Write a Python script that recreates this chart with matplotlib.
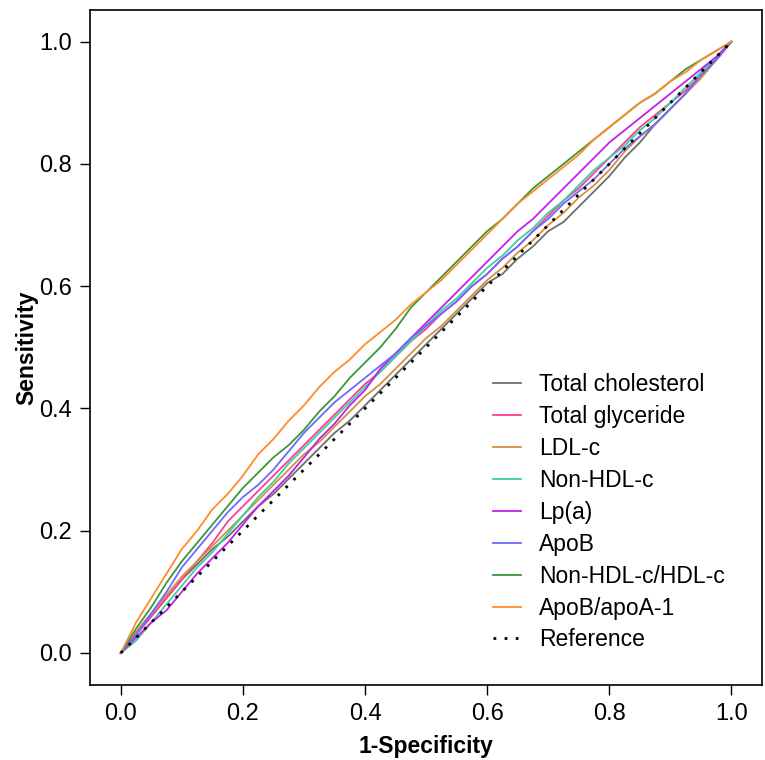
import numpy as np
import matplotlib
matplotlib.use("Agg")
import matplotlib.pyplot as plt

plt.rcParams['font.family'] = ['Liberation Sans', 'DejaVu Sans']

# 1-specificity grid shared by all curves (step 0.025)
fpr = [0, 0.025, 0.05, 0.075, 0.1, 0.125, 0.15, 0.175, 0.2, 0.225, 0.25,
       0.275, 0.3, 0.325, 0.35, 0.375, 0.4, 0.425, 0.45, 0.475, 0.5,
       0.525, 0.55, 0.575, 0.6, 0.625, 0.65, 0.675, 0.7, 0.725, 0.75,
       0.775, 0.8, 0.825, 0.85, 0.875, 0.9, 0.925, 0.95, 0.975, 1.0]

total_chol = [0, 0.03, 0.06, 0.09, 0.12, 0.145, 0.17, 0.19, 0.215, 0.24, 0.26,
              0.285, 0.31, 0.335, 0.36, 0.38, 0.405, 0.43, 0.455, 0.48, 0.505,
              0.53, 0.555, 0.58, 0.605, 0.62, 0.645, 0.665, 0.69, 0.705, 0.73,
              0.755, 0.78, 0.81, 0.835, 0.865, 0.89, 0.915, 0.945, 0.97, 1.0]
total_gly = [0, 0.03, 0.06, 0.09, 0.12, 0.15, 0.18, 0.215, 0.24, 0.265, 0.29,
             0.315, 0.34, 0.365, 0.39, 0.415, 0.44, 0.46, 0.485, 0.51, 0.53,
             0.555, 0.575, 0.6, 0.62, 0.645, 0.665, 0.69, 0.715, 0.74, 0.76,
             0.785, 0.81, 0.835, 0.86, 0.88, 0.9, 0.92, 0.945, 0.97, 1.0]
ldl = [0, 0.035, 0.065, 0.095, 0.125, 0.15, 0.175, 0.2, 0.225, 0.25, 0.275,
       0.3, 0.325, 0.345, 0.37, 0.395, 0.42, 0.44, 0.465, 0.49, 0.515,
       0.535, 0.56, 0.585, 0.61, 0.63, 0.655, 0.675, 0.7, 0.72, 0.745,
       0.765, 0.79, 0.82, 0.845, 0.865, 0.89, 0.915, 0.94, 0.97, 1.0]
non_hdl = [0, 0.02, 0.05, 0.08, 0.11, 0.14, 0.165, 0.195, 0.225, 0.255, 0.28,
           0.31, 0.335, 0.36, 0.385, 0.41, 0.435, 0.46, 0.485, 0.51, 0.535,
           0.56, 0.58, 0.605, 0.63, 0.65, 0.675, 0.695, 0.72, 0.74, 0.765,
           0.79, 0.81, 0.83, 0.855, 0.875, 0.9, 0.925, 0.95, 0.975, 1.0]
lpa = [0, 0.025, 0.05, 0.07, 0.1, 0.13, 0.155, 0.18, 0.21, 0.24, 0.265,
       0.29, 0.32, 0.35, 0.375, 0.405, 0.43, 0.465, 0.49, 0.515, 0.54,
       0.565, 0.59, 0.615, 0.64, 0.665, 0.69, 0.71, 0.735, 0.76, 0.785,
       0.81, 0.835, 0.855, 0.875, 0.895, 0.915, 0.935, 0.955, 0.975, 1.0]
apob = [0, 0.03, 0.065, 0.1, 0.14, 0.17, 0.2, 0.23, 0.255, 0.275, 0.3,
        0.33, 0.36, 0.385, 0.41, 0.43, 0.45, 0.47, 0.49, 0.515, 0.535,
        0.555, 0.575, 0.6, 0.62, 0.645, 0.665, 0.69, 0.71, 0.735, 0.755,
        0.775, 0.8, 0.825, 0.845, 0.865, 0.89, 0.915, 0.945, 0.97, 1.0]
nonhdl_hdl = [0, 0.04, 0.075, 0.115, 0.15, 0.18, 0.21, 0.24, 0.27, 0.295, 0.32,
              0.34, 0.365, 0.395, 0.42, 0.45, 0.475, 0.5, 0.53, 0.565, 0.59,
              0.615, 0.64, 0.665, 0.69, 0.71, 0.735, 0.76, 0.78, 0.8, 0.82,
              0.84, 0.86, 0.88, 0.9, 0.915, 0.935, 0.955, 0.97, 0.985, 1.0]
apob_apoa1 = [0, 0.05, 0.09, 0.13, 0.17, 0.2, 0.235, 0.26, 0.29, 0.325, 0.35,
              0.38, 0.405, 0.435, 0.46, 0.48, 0.505, 0.525, 0.545, 0.57, 0.59,
              0.61, 0.635, 0.66, 0.685, 0.71, 0.735, 0.755, 0.775, 0.795, 0.815,
              0.84, 0.86, 0.88, 0.9, 0.915, 0.935, 0.95, 0.97, 0.985, 1.0]

labels = ['Total cholesterol', 'Total glyceride', 'LDL-c', 'Non-HDL-c',
          'Lp(a)', 'ApoB', 'Non-HDL-c/HDL-c', 'ApoB/apoA-1']
series = [total_chol, total_gly, ldl, non_hdl, lpa, apob, nonhdl_hdl, apob_apoa1]
colors = ['#6e6e6e', '#ff3c96', '#d4903f', '#3ccfa0', '#c020e8', '#6b6bff',
          '#3a963a', '#ff8c2a']

fig = plt.figure(figsize=(7.65, 7.6), dpi=100)
ax = fig.add_axes([0.118, 0.099, 0.878, 0.888])

for y, lab, c in zip(series, labels, colors):
    ax.plot(fpr, y, color=c, lw=1.3, label=lab)
ax.plot([0, 1], [0, 1], color='black', lw=2, linestyle=(0, (1, 3)), label='Reference')

ax.set_xlim(-0.05, 1.05)
ax.set_ylim(-0.052, 1.052)
ticks = [0.0, 0.2, 0.4, 0.6, 0.8, 1.0]
ax.set_xticks(ticks)
ax.set_yticks(ticks)
ax.set_xticklabels(['%.1f' % t for t in ticks])
ax.set_yticklabels(['%.1f' % t for t in ticks])
ax.tick_params(direction='out', length=7, width=1, labelsize=17, pad=6)
for s in ax.spines.values():
    s.set_linewidth(1.2)

ax.set_xlabel('1-Specificity', fontsize=16.5, fontweight='bold', labelpad=7)
ax.set_ylabel('Sensitivity', fontsize=16.5, fontweight='bold', labelpad=1)

ax.legend(loc='upper left', bbox_to_anchor=(0.6, 0.462), frameon=False,
          fontsize=16.5, handlelength=1.2, handletextpad=0.8, labelspacing=0.39,
          borderpad=0, borderaxespad=0)

fig.savefig('out.png', dpi=100)
